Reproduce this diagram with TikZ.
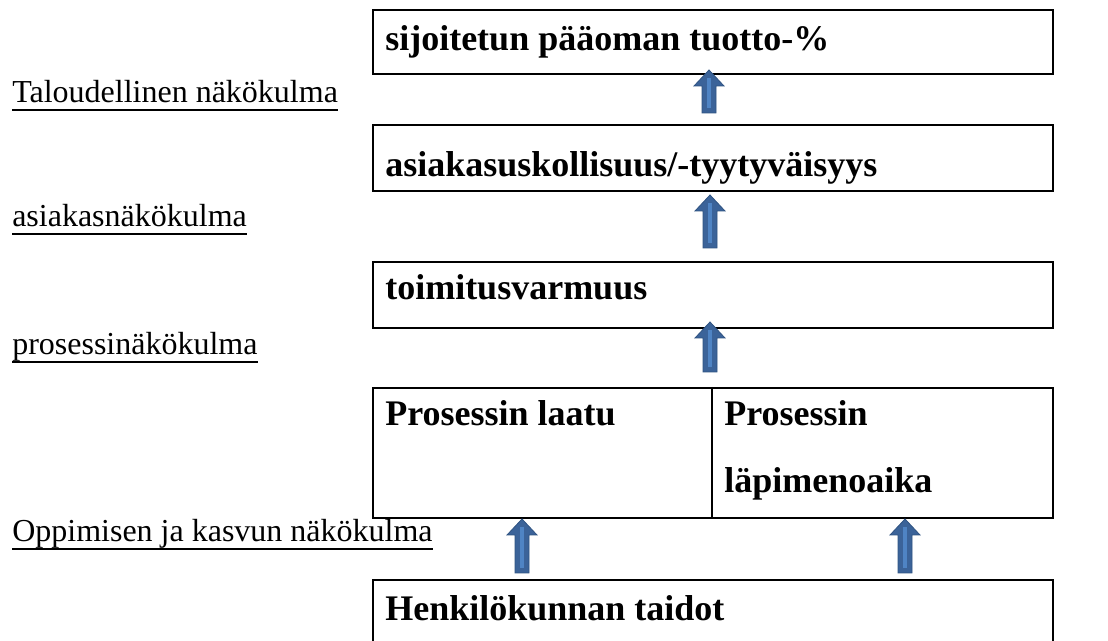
\documentclass[tikz,border=0pt]{standalone}
\usepackage{fontspec}
\setmainfont{Liberation Serif}
\definecolor{arrfill}{HTML}{3B6399}
\definecolor{arrdraw}{HTML}{2F5382}
\definecolor{arrlight}{HTML}{4F84C4}
\newcommand{\blockup}[3]{% centre x, tip y, bottom y (px)
  \filldraw[fill=arrfill, draw=arrdraw, line width=0.6pt]
    (#1-15,#2+16) -- (#1,#2) -- (#1+15,#2+16) -- (#1+7,#2+16)
    -- (#1+7,#3) -- (#1-7,#3) -- (#1-7,#2+16) -- cycle;
  \fill[arrlight] (#1-1.6,#2+8) rectangle (#1+1.6,#3-5);
}
\tikzset{
  box/.style={draw, line width=1.8pt, inner sep=0pt, anchor=north west, minimum width=510pt},
  btxt/.style={anchor=base west, inner sep=0pt, font=\fontsize{27}{32}\selectfont\bfseries},
  lbl/.style={anchor=base west, inner sep=0pt, font=\fontsize{24}{28}\selectfont},
  uline/.style={line width=1.5pt}
}
\begin{document}
\begin{tikzpicture}[x=0.75pt,y=-0.75pt]
\useasboundingbox (0,0) rectangle (1108,641);
\clip (0,0) rectangle (1108,641);
\fill[white] (0,0) rectangle (1108,641);
% boxes
\node[box, minimum height=48pt] (b1) at (372,9) {};
\node[box, minimum height=49.5pt] (b2) at (372,124) {};
\node[box, minimum height=49.5pt] (b3) at (372,261) {};
\node[box, minimum height=97.5pt] (b4) at (372,387) {};
\node[box, minimum height=62pt] (b5) at (372,579) {};
\draw[line width=1.8pt] (712,387) -- (712,517);
% box texts
\node[btxt] (t1) at (385,51) {sijoitetun pääoman tuotto-\%};
\node[btxt] (t2) at (385,177) {asiakasuskollisuus/-tyytyväisyys};
\node[btxt] (t3) at (385,300) {toimitusvarmuus};
\node[btxt] (t4) at (385,426) {Prosessin laatu};
\node[btxt] (t5) at (724,426) {Prosessin};
\node[btxt] (t6) at (724,493) {läpimenoaika};
\node[btxt] (t7) at (385,621) {Henkilökunnan taidot};
% labels
\node[lbl] (l1) at (12,103) {Taloudellinen näkökulma};
\node[lbl] (l2) at (12,227) {asiakasnäkökulma};
\node[lbl] (l3) at (12,355) {prosessinäkökulma};
\node[lbl] (l4) at (12,542) {Oppimisen ja kasvun näkökulma};
\foreach \n in {l1,l2,l3,l4}
  \draw[uline] ([yshift=-5.2pt]\n.base west) -- ([yshift=-5.2pt]\n.base east);
% arrows
\blockup{709}{70}{113}
\blockup{710}{195}{248}
\blockup{710}{322}{372}
\blockup{522}{519}{573}
\blockup{905}{519}{573}
\end{tikzpicture}
\end{document}
